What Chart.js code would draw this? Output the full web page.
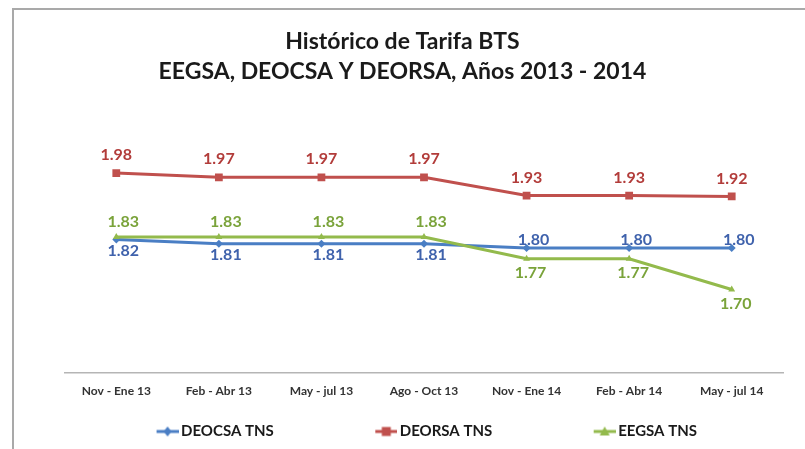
<!DOCTYPE html>
<html lang="es">
<head>
  <meta charset="UTF-8">
  <title>Histórico de Tarifa BTS</title>
  <script src="https://cdn.jsdelivr.net/npm/chart.js"></script>
  <style>
    body {
      margin: 0;
      background: #fff;
      font-family: Lato, Arial, sans-serif;
    }
    .wrap {
      position: relative;
      width: 805px;
      height: 449px;
      overflow: hidden;
    }
    .frame {
      position: absolute;
      left: 12px;
      top: 8px;
      width: 900px;
      height: 600px;
      border-top: 2px solid #a9a9a9;
      border-left: 2px solid #a9a9a9;
    }
    canvas {
      position: absolute;
      left: 0;
      top: 0;
    }
  </style>
</head>
<body>
  <div class="wrap">
    <div class="frame"></div>
    <canvas id="tarifaChart" width="805" height="449"></canvas>
  </div>

  <script>
    // periods (x axis)
    const periodos = ['Nov - Ene 13', 'Feb - Abr 13', 'May - jul 13', 'Ago - Oct 13',
                      'Nov - Ene 14', 'Feb - Abr 14', 'May - jul 14'];

    // series values
    const deocsa = [1.82, 1.81, 1.81, 1.81, 1.80, 1.80, 1.80];
    const deorsa = [1.98, 1.97, 1.97, 1.97, 1.926, 1.926, 1.924];
    const eegsa  = [1.826, 1.826, 1.826, 1.826, 1.774, 1.774, 1.70];

    const tituloLineas = ['Histórico de Tarifa BTS', 'EEGSA, DEOCSA Y DEORSA, Años 2013 - 2014'];

    const azul = '#4A7EC4', rojo = '#C0504D', verde = '#93BA4C';
    const GLYPH_BOX = 88; // legend box width, glyph sits at its right end

    // legend glyph: short line with the series marker, blank space on the left
    function legendGlyph(color, style) {
      const c = document.createElement('canvas');
      c.width = GLYPH_BOX + 10; c.height = 12;
      const g = c.getContext('2d');
      const x0 = c.width - 22, cy = 6;
      g.strokeStyle = color; g.lineWidth = 3;
      g.beginPath(); g.moveTo(x0, cy); g.lineTo(c.width, cy); g.stroke();
      g.fillStyle = color;
      const mx = x0 + 11;
      g.beginPath();
      if (style === 'rect') {
        g.rect(mx - 4.5, cy - 4.5, 9, 9);
      } else if (style === 'triangle') {
        g.moveTo(mx, cy - 5); g.lineTo(mx + 5, cy + 4); g.lineTo(mx - 5, cy + 4); g.closePath();
      } else {
        g.moveTo(mx, cy - 5); g.lineTo(mx + 4, cy); g.lineTo(mx, cy + 5); g.lineTo(mx - 4, cy); g.closePath();
      }
      g.fill();
      return c;
    }

    // where each series puts its value label (dx, dy from the point)
    function labelOffset(dsIndex, i) {
      if (dsIndex === 1) return [0, -18];
      if (dsIndex === 2) return i < 4 ? [7, -15] : [4, 14];
      return i < 4 ? [7, 11] : [7, -8];
    }

    const valueLabels = {
      id: 'valueLabels',
      afterDatasetsDraw(chart) {
        const ctx = chart.ctx;
        ctx.save();
        ctx.font = 'bold 16px Lato, Arial, sans-serif';
        ctx.textAlign = 'center';
        ctx.textBaseline = 'middle';
        chart.data.datasets.forEach((ds, d) => {
          const meta = chart.getDatasetMeta(d);
          meta.data.forEach((pt, i) => {
            const off = labelOffset(d, i);
            ctx.fillStyle = ds.labelColor;
            ctx.fillText(ds.data[i].toFixed(2), pt.x + off[0], pt.y + off[1]);
          });
        });
        ctx.restore();
      }
    };

    const ctx = document.getElementById('tarifaChart').getContext('2d');
    const chart = new Chart(ctx, {
      type: 'line',
      data: {
        labels: periodos,
        datasets: [
          {
            label: 'DEOCSA TNS',
            data: deocsa,
            borderColor: azul,
            backgroundColor: azul,
            labelColor: '#3F62AC',
            pointStyle: 'rectRot',
            pointRadius: 4,
            glyph: legendGlyph(azul, 'rectRot'),
            order: 2
          },
          {
            label: 'DEORSA TNS',
            data: deorsa,
            borderColor: rojo,
            backgroundColor: rojo,
            labelColor: '#B23C3A',
            pointStyle: 'rect',
            pointRadius: 5.5,
            glyph: legendGlyph(rojo, 'rect'),
            order: 1
          },
          {
            label: 'EEGSA TNS',
            data: eegsa,
            borderColor: verde,
            backgroundColor: verde,
            labelColor: '#7AA33A',
            pointStyle: 'triangle',
            pointRadius: 4,
            glyph: legendGlyph(verde, 'triangle'),
            order: 0
          }
        ]
      },
      options: {
        responsive: false,
        animation: false,
        elements: {
          line: { borderWidth: 3, tension: 0 },
          point: { borderWidth: 0 }
        },
        layout: {
          padding: { left: 22, right: 22, top: 0, bottom: 0 }
        },
        plugins: {
          tooltip: { enabled: false },
          title: {
            display: true,
            text: tituloLineas,
            color: '#1a1a1a',
            font: { family: 'Lato, Arial, sans-serif', size: 23, weight: 'bold', lineHeight: 1.3 },
            padding: { top: 27, bottom: 78 }
          },
          legend: {
            position: 'bottom',
            labels: {
              usePointStyle: true,
              pointStyleWidth: GLYPH_BOX,
              padding: 8,
              color: '#1a1a1a',
              font: { family: 'Lato, Arial, sans-serif', size: 15, weight: 'bold' },
              sort: (a, b) => a.datasetIndex - b.datasetIndex,
              generateLabels(chart) {
                const items = Chart.defaults.plugins.legend.labels.generateLabels(chart);
                items.forEach(it => {
                  it.pointStyle = chart.data.datasets[it.datasetIndex].glyph;
                  it.text = it.text + '\u2003\u2003';
                });
                return items;
              }
            }
          }
        },
        scales: {
          x: {
            offset: true,
            grid: { display: false, drawTicks: false },
            border: { display: true, color: '#b5b5b5', width: 1.5 },
            ticks: {
              color: '#333',
              padding: 11,
              autoSkip: false,
              maxRotation: 0,
              font: { family: 'Lato, Arial, sans-serif', size: 12, weight: 'bold' }
            },
            afterFit(scale) { scale.height += 7; }
          },
          y: {
            display: true,
            min: 1.5,
            max: 2.0,
            grid: { display: false },
            border: { display: false },
            ticks: { display: false },
            afterFit(scale) { scale.width = 43; }
          }
        }
      },
      plugins: [valueLabels]
    });
  </script>
</body>
</html>
